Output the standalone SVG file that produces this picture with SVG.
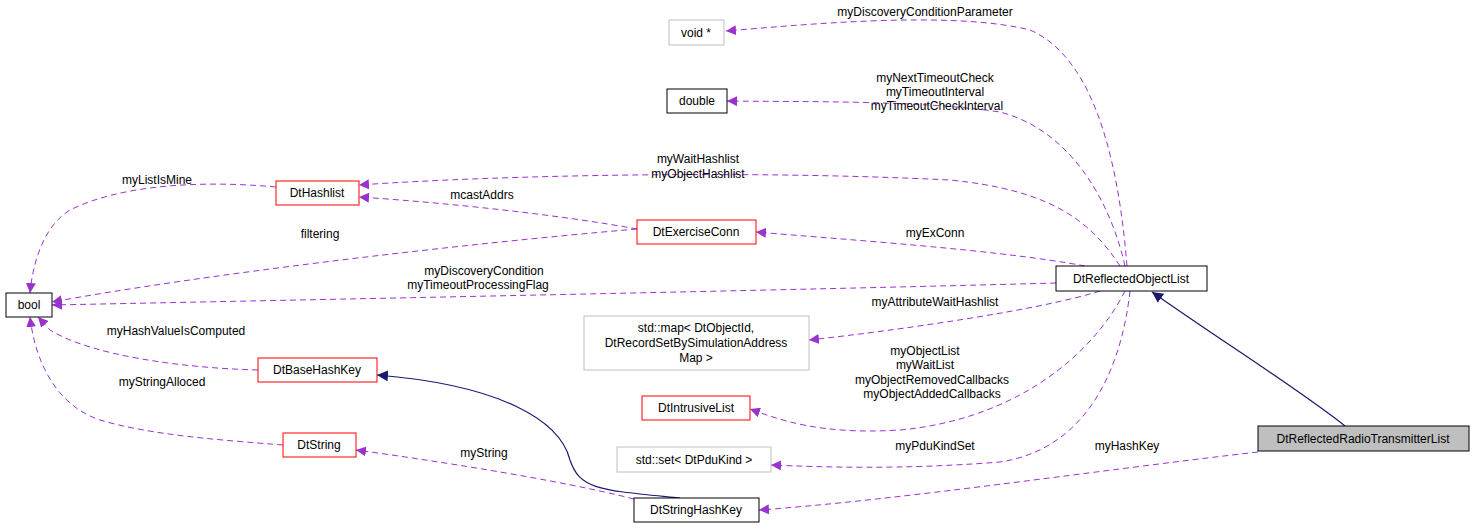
<svg xmlns="http://www.w3.org/2000/svg" width="1477" height="529" viewBox="0 0 1477 529">
<style>
text{font-family:"Liberation Sans",Arial,sans-serif;font-size:12px;fill:#000}
.n rect{fill:#fff;stroke:#000}
.r rect{stroke:#f00}
.g rect{stroke:#bfbfbf}
.c{fill:none;stroke:#9a32cd;stroke-dasharray:6,4}
.i{fill:none;stroke:#191970;stroke-width:1.2}
</style>
<defs>
<marker id="p" viewBox="0 0 10 10" refX="10" refY="5" markerWidth="10" markerHeight="10" markerUnits="userSpaceOnUse" orient="auto"><path d="M0,0L10,5L0,10z" fill="#9a32cd"/></marker>
<marker id="b" viewBox="0 0 10 10" refX="10" refY="5" markerWidth="11" markerHeight="11" markerUnits="userSpaceOnUse" orient="auto"><path d="M0,0L10,5L0,10z" fill="#191970"/></marker>
</defs>
<rect width="1477" height="529" fill="#fff"/>
<g id="connectors">
<path class="c" marker-end="url(#p)" d="M1127,266C1120,180 1100,60 1030,30C950,10 800,25 726,31"/>
<path class="c" marker-end="url(#p)" d="M1125,266C1110,200 1070,130 1000,112C920,100 800,102 727,101"/>
<path class="c" marker-end="url(#p)" d="M1120,266C1090,220 1050,190 950,180C750,170 500,175 359,185"/>
<path class="c" marker-end="url(#p)" d="M637,229C560,215 450,203 359,197"/>
<path class="c" marker-end="url(#p)" d="M276,187C200,180 120,185 70,210C45,225 33,260 30,293"/>
<path class="c" marker-end="url(#p)" d="M637,229C450,245 200,275 52,302"/>
<path class="c" marker-end="url(#p)" d="M1085,266C1000,250 850,240 756,232"/>
<path class="c" marker-end="url(#p)" d="M1056,283C800,290 300,300 52,305"/>
<path class="c" marker-end="url(#p)" d="M1100,291C1040,310 900,330 809,340"/>
<path class="c" marker-end="url(#p)" d="M258,370C180,368 90,355 50,330L38,317"/>
<path class="c" marker-end="url(#p)" d="M283,445C220,440 150,435 100,420C55,405 35,360 30,317"/>
<path class="c" marker-end="url(#p)" d="M1125,291C1090,360 1010,420 900,430C820,435 780,420 750,409"/>
<path class="c" marker-end="url(#p)" d="M1130,291C1120,380 1080,450 1000,462C900,470 820,467 771,465"/>
<path class="c" marker-end="url(#p)" d="M634,499C560,480 430,460 356,450"/>
<path class="c" marker-end="url(#p)" d="M1258,452C1100,470 900,500 759,510"/>
<path class="i" marker-end="url(#b)" d="M680,498C600,490 580,490 570,460C560,420 500,385 377,375"/>
<path class="i" marker-end="url(#b)" d="M1345,426C1300,390 1220,340 1152,292"/>
</g>
<g id="labels" text-anchor="middle">
<text x="925" y="16">myDiscoveryConditionParameter</text>
<text x="935" y="82">myNextTimeoutCheck</text>
<text x="935" y="96">myTimeoutInterval</text>
<text x="937" y="110">myTimeoutCheckInterval</text>
<text x="698" y="163">myWaitHashlist</text>
<text x="698" y="178">myObjectHashlist</text>
<text x="482" y="199">mcastAddrs</text>
<text x="157" y="184">myListIsMine</text>
<text x="320" y="238">filtering</text>
<text x="935" y="237">myExConn</text>
<text x="484" y="275">myDiscoveryCondition</text>
<text x="478" y="289">myTimeoutProcessingFlag</text>
<text x="935" y="306">myAttributeWaitHashlist</text>
<text x="176" y="335">myHashValueIsComputed</text>
<text x="162" y="386">myStringAlloced</text>
<text x="925" y="355">myObjectList</text>
<text x="925" y="369">myWaitList</text>
<text x="932" y="384">myObjectRemovedCallbacks</text>
<text x="932" y="398">myObjectAddedCallbacks</text>
<text x="935" y="450">myPduKindSet</text>
<text x="484" y="457">myString</text>
<text x="1127" y="450">myHashKey</text>
</g>
<g text-anchor="middle">
<g id="void" class="n g"><rect x="669" y="20" width="55" height="25"/><text x="696" y="37">void *</text></g>
<g id="double" class="n"><rect x="667" y="89" width="60" height="24"/><text x="697" y="105">double</text></g>
<g id="DtHashlist" class="n r"><rect x="276" y="181" width="83" height="24"/><text x="317" y="197">DtHashlist</text></g>
<g id="DtExerciseConn" class="n r"><rect x="637" y="220" width="119" height="24"/><text x="696" y="236">DtExerciseConn</text></g>
<g id="bool" class="n"><rect x="6" y="293" width="46" height="24"/><text x="29" y="309">bool</text></g>
<g id="DtReflectedObjectList" class="n"><rect x="1056" y="266" width="151" height="25"/><text x="1131" y="283">DtReflectedObjectList</text></g>
<g id="stdmap" class="n g"><rect x="584" y="316" width="225" height="54"/><text x="696" y="332">std::map&lt; DtObjectId,</text><text x="696" y="347">DtRecordSetBySimulationAddress</text><text x="696" y="362">Map &gt;</text></g>
<g id="DtBaseHashKey" class="n r"><rect x="258" y="358" width="119" height="24"/><text x="317" y="374">DtBaseHashKey</text></g>
<g id="DtIntrusiveList" class="n r"><rect x="642" y="396" width="108" height="24"/><text x="696" y="412">DtIntrusiveList</text></g>
<g id="DtString" class="n r"><rect x="283" y="433" width="73" height="24"/><text x="319" y="449">DtString</text></g>
<g id="stdset" class="n g"><rect x="617" y="447" width="154" height="25"/><text x="694" y="464">std::set&lt; DtPduKind &gt;</text></g>
<g id="DtStringHashKey" class="n"><rect x="634" y="498" width="125" height="24"/><text x="696" y="514">DtStringHashKey</text></g>
<g id="DtReflectedRadioTransmitterList" class="n"><rect x="1258" y="426" width="211" height="25" style="fill:#bfbfbf"/><text x="1363" y="443">DtReflectedRadioTransmitterList</text></g>
</g>
</svg>
